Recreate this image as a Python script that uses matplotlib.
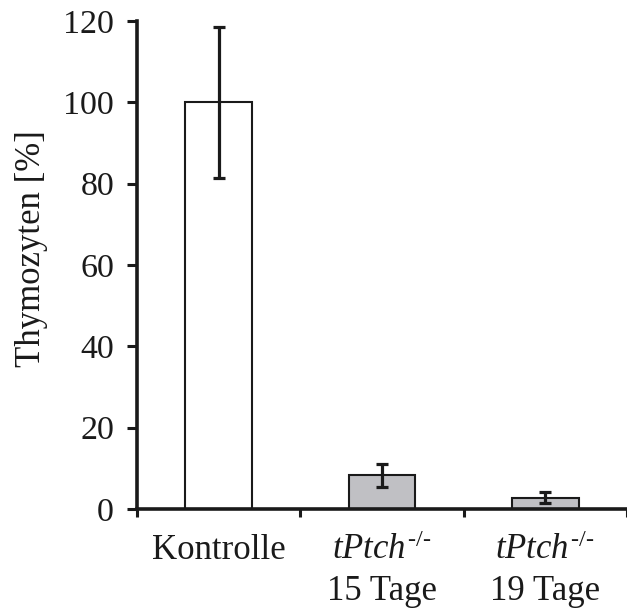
import matplotlib
matplotlib.use("Agg")
import matplotlib.pyplot as plt
from matplotlib.ticker import FixedLocator

# Data
categories = ["Kontrolle",
              r"$\mathit{tPtch}^{\mathit{\text{-/-}}}$" + "\n15 Tage",
              r"$\mathit{tPtch}^{\mathit{\text{-/-}}}$" + "\n19 Tage"]
values = [100.0, 8.3, 2.8]
errors = [18.5, 2.8, 1.4]
colors = ["#ffffff", "#c0c0c4", "#c0c0c4"]
yticks = [0, 20, 40, 60, 80, 100, 120]

plt.rcParams["font.family"] = ["Liberation Serif", "DejaVu Serif"]
plt.rcParams["mathtext.fontset"] = "custom"
plt.rcParams["mathtext.rm"] = "Liberation Serif"
plt.rcParams["mathtext.it"] = "Liberation Serif:italic"

ink = "#1a1a1a"
fig = plt.figure(figsize=(6.27, 6.10), dpi=100)
ax = fig.add_axes([137 / 627, 101 / 610, 490 / 627, 488 / 610])

x = list(range(len(categories)))
ax.bar(x, values, width=0.41, color=colors, edgecolor=ink, linewidth=1.5, zorder=2)
ax.errorbar(x, values, yerr=errors, fmt="none", ecolor=ink, elinewidth=2.3,
            capsize=4, capthick=2.3, zorder=3)

ax.set_xlim(-0.5, 2.5)
ax.set_ylim(0, 120)
ax.set_yticks(yticks)
ax.set_xticks(x)
ax.set_xticklabels(categories, linespacing=1.3)
ax.xaxis.set_minor_locator(FixedLocator([-0.5, 0.5, 1.5, 2.5]))

for s in ["top", "right"]:
    ax.spines[s].set_visible(False)
for s in ["left", "bottom"]:
    ax.spines[s].set_linewidth(2.6)
    ax.spines[s].set_color(ink)
    ax.spines[s].set_capstyle("projecting")

ax.tick_params(axis="y", direction="out", length=7.5, width=2.2, color=ink,
               labelsize=24.5, pad=9, labelcolor=ink)
ax.tick_params(axis="x", which="major", length=0, labelsize=25, pad=18, labelcolor=ink)
ax.tick_params(axis="x", which="minor", direction="out", length=6, width=2.2, color=ink)

ax.set_ylabel("Thymozyten [%]", fontsize=25, color=ink)
ax.yaxis.set_label_coords(-0.182, 0.533)

fig.savefig("out.png", dpi=100)
